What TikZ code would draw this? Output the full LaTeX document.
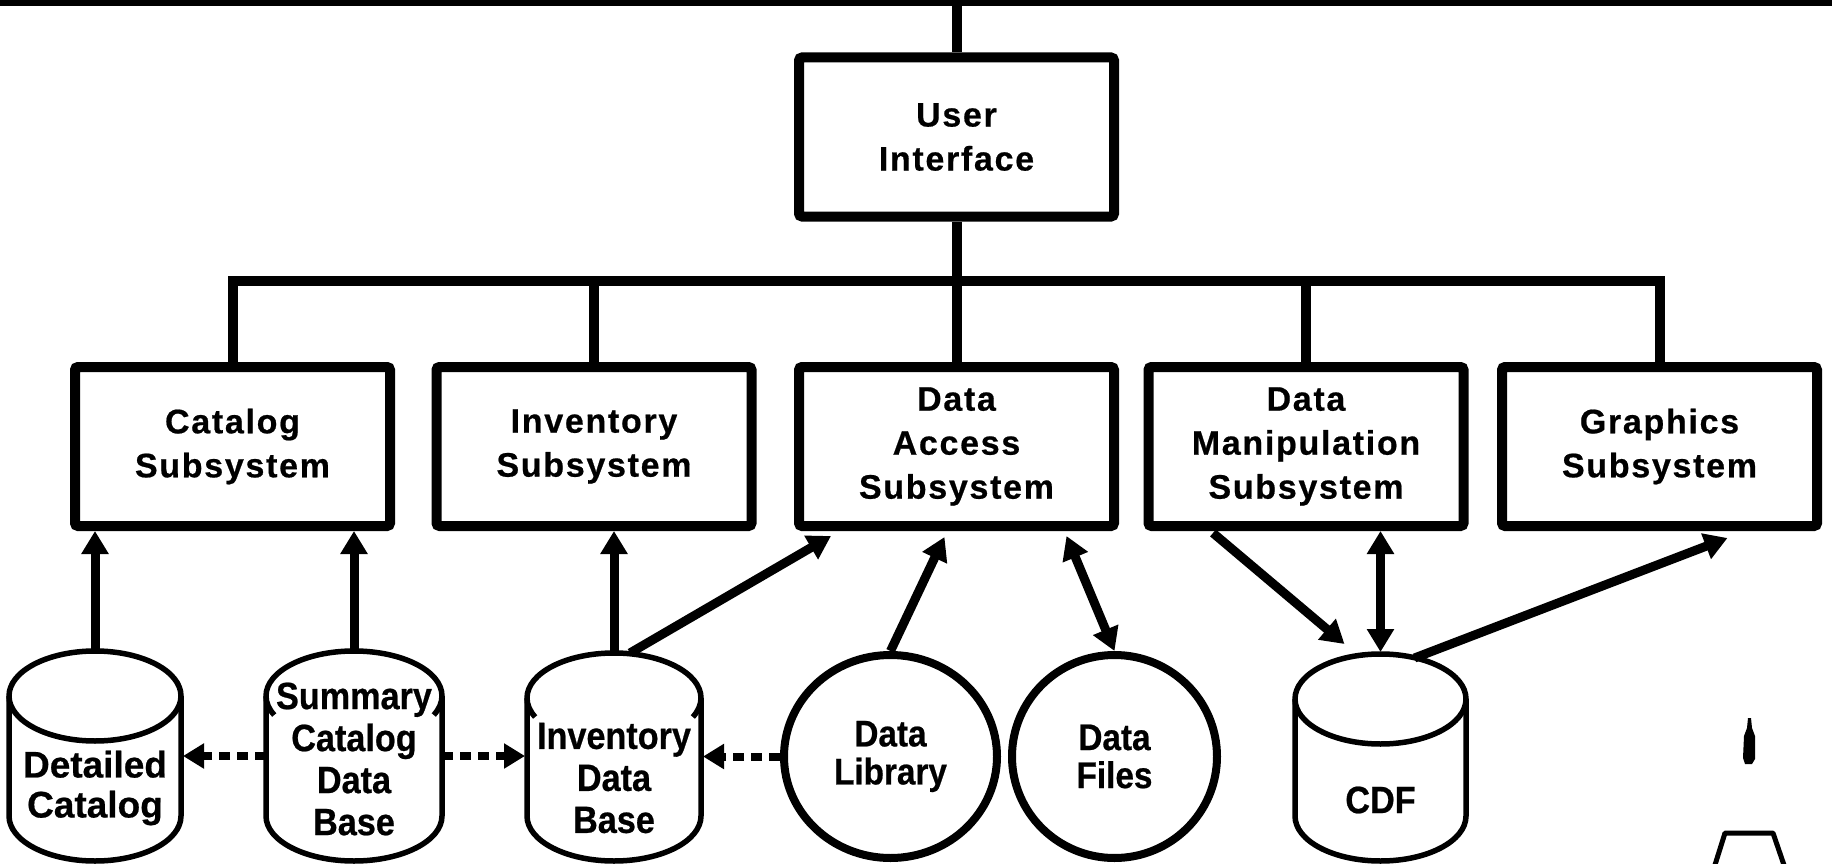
\documentclass[tikz,border=0pt]{standalone}
\usepackage{fontspec}
\setmainfont{Liberation Sans}
\newfontfamily\boxfont{Liberation Sans Bold}[LetterSpace=5, FakeBold=0.6]
\newfontfamily\cylfont{Liberation Sans Bold}[FakeStretch=0.9, FakeBold=0.6]
\newfontfamily\widecylfont{Liberation Sans Bold}[FakeBold=0.6]
\usetikzlibrary{arrows.meta,shapes.geometric,calc}
\tikzset{
  boxnode/.style={draw, line width=10pt, rounded corners=3pt, minimum width=315pt, minimum height=159pt,
    inner sep=0pt, align=center, font=\boxfont\fontsize{34}{44}\selectfont},
  conn/.style={line width=10pt, line join=miter},
  arr/.style={line width=9pt, -{Triangle[length=23pt,width=26pt]}},
  darr/.style={line width=9pt, {Triangle[length=23pt,width=26pt]}-{Triangle[length=23pt,width=26pt]}},
  dasharr/.style={line width=8pt, dash pattern=on 11pt off 7pt, -{Triangle[length=21pt,width=24pt]}, shorten >=2pt},
  cylline/.style={line width=5.5pt, line join=round},
  cyltext/.style={align=center, inner sep=0pt, font=\cylfont\fontsize{38}{42}\selectfont},
  ovalnode/.style={draw, ellipse, line width=8pt, inner sep=0pt, align=center,
    font=\cylfont\fontsize{37}{38}\selectfont},
}
% #1 name, #2 cx, #3 top, #4 bottom, #5 rx, #6 full (1) or hooks (0)
\newcommand\mycyl[6]{%
  \node[inner sep=0pt, outer sep=0pt, minimum width={2*#5}, minimum height={#4-#3}] (#1) at (#2,{(#3+#4)/2}) {};
  \draw[cylline] (#2-#5,#3+45) -- (#2-#5,#4-45) arc[start angle=180,end angle=0,x radius=#5,y radius=45]
    -- (#2+#5,#3+45) arc[start angle=0,end angle=-180,x radius=#5,y radius=45] -- cycle;
  \ifnum#6=1
    \draw[cylline] (#2-#5,#3+45) arc[start angle=180,end angle=0,x radius=#5,y radius=45];
  \else
    \draw[cylline] (#2-#5,#3+45) arc[start angle=180,end angle=155,x radius=#5,y radius=45];
    \draw[cylline] (#2+#5,#3+45) arc[start angle=0,end angle=25,x radius=#5,y radius=45];
  \fi
}
\begin{document}
\begin{tikzpicture}[x=1pt,y=-1pt]
\useasboundingbox (0,0) rectangle (1832,864);
% top edge line
\fill (0,0) rectangle (1832,6);
\coordinate (top) at (956.5,2);
\coordinate (bus) at (956.5,281);

% boxes
\node[boxnode] (ui) at (956.5,137) {User\\Interface};
\node[boxnode] (cat) at (232.5,446.5) {Catalog\\Subsystem};
\node[boxnode] (invs) at (594,446.5) {Inventory\\Subsystem};
\node[boxnode] (da) at (956.5,446.5) {Data\\Access\\Subsystem};
\node[boxnode] (dm) at (1306,446.5) {Data\\Manipulation\\Subsystem};
\node[boxnode] (gr) at (1659.5,446.5) {Graphics\\Subsystem};

% tree connectors
\draw[conn] (top) -- (ui.north);
\draw[conn] (ui.south) -- (bus);
\draw[conn] (cat.north) -- (cat.north |- bus) -- (gr.north |- bus) -- (gr.north);
\draw[conn] (invs.north) -- (invs.north |- bus);
\draw[conn] (da.north) -- (da.north |- bus);
\draw[conn] (dm.north) -- (dm.north |- bus);

% data stores
\mycyl{det}{95}{651}{861}{86}{1}
\mycyl{sum}{354}{651}{861}{88}{0}
\mycyl{inv}{614}{653}{861}{87}{0}
\mycyl{cdf}{1380.5}{654}{861}{85.5}{1}
\node[cyltext, font=\widecylfont\fontsize{37}{40}\selectfont] (dett) at (95,788) {Detailed\\Catalog};
\node[cyltext] (sumt) at (354,759) {Summary\\Catalog\\Data\\Base};
\node[cyltext] (invt) at (614,778) {Inventory\\Data\\Base};
\node[cyltext] (cdft) at (1380.5,800) {CDF};
\node[ovalnode, minimum width=213pt, minimum height=203pt] (lib) at (890.5,756.5) {Data\\Library};
\node[ovalnode, minimum width=205pt, minimum height=203pt] (files) at (1114.5,756.5) {Data\\Files};

% arrows
\draw[arr, shorten <=2pt] (det.north) -- (det.north |- cat.south);
\draw[arr, shorten <=2pt] (sum.north) -- (sum.north |- cat.south);
\draw[arr, shorten <=2pt] (inv.north) -- (inv.north |- invs.south);
\draw[arr] ($(inv.north)+(16,0)$) -- ($(da.south west)+(37,5)$);
\draw[arr] (lib.north) -- ($(da.south)+(-12,6)$);
\draw[darr] ($(da.south)+(110,5)$) -- (files.north);
\draw[arr] ($(dm.south)+(-93,2)$) -- ($(cdf.north)+(-36,-10)$);
\draw[darr] (dm.south -| cdf.north) -- ($(cdf.north)+(0,-2)$);
\draw[arr] ($(cdf.north)+(34,4)$) -- ($(gr.south)+(68,7)$);

% dashed links
\draw[dasharr] (sum.west) -- (sum.west -| det.east);
\draw[dasharr] (sum.east) -- (sum.east -| inv.west);
\draw[dasharr] (lib.west) -- (lib.west -| inv.east);

% fragments at lower right
\fill (1748,718) -- (1751,718) -- (1752,728) -- (1755,736) -- (1755,759) -- (1752,764) -- (1745,764)
  -- (1743,758) -- (1744,736) -- (1747,728) -- cycle;
\draw[line width=5pt, line join=round] (1714,868) -- (1725,833) -- (1773,833) -- (1785,868);
\end{tikzpicture}
\end{document}
